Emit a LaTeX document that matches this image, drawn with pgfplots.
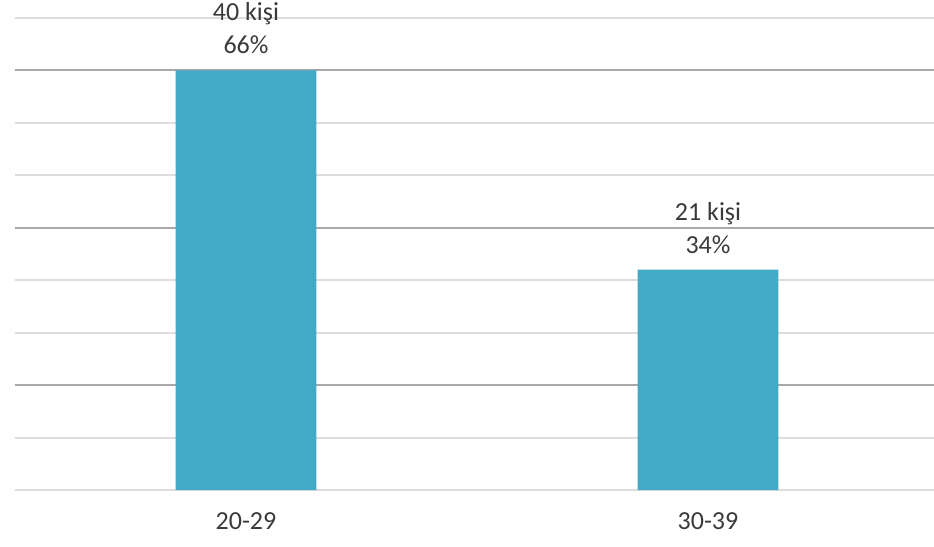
\documentclass[border=0pt]{standalone}
\usepackage{fontspec}
\setmainfont{Carlito}
\usepackage{pgfplots}
\usepackage{pgfplotstable}
\pgfplotsset{compat=1.18}
\definecolor{barblue}{HTML}{42A9C6}
\definecolor{gridlight}{HTML}{DDDDDD}
\definecolor{griddark}{HTML}{A9A9A9}
\definecolor{txt}{HTML}{3A3A3A}
\pgfplotstableread{
x y pct
0 40 66
1 21 34
}\data
\begin{document}
\begin{tikzpicture}
\begin{axis}[
  name=ax,
  scale only axis,
  width=462pt, height=236pt,
  xmin=-0.5, xmax=1.5,
  ymin=0, ymax=45,
  axis lines*=left,
  axis line style={draw=none},
  xtick={0,1},
  xticklabels={20-29,30-39},
  major x tick style={draw=none},
  xticklabel style={font=\fontsize{13}{15}\selectfont, text=txt, yshift=-8pt},
  extra x ticks={-0.5,0.5,1.5},
  extra x tick labels={},
  extra x tick style={grid=none, tick align=outside, major tick length=4pt, tick style={draw=griddark, line width=0.6pt}},
  ytick={0,5,...,45},
  yticklabels={},
  major y tick style={draw=none},
  ymajorgrids,
  grid style={draw=gridlight, line width=1pt},
  extra y ticks={10,25,40},
  extra y tick labels={},
  extra y tick style={grid style={draw=griddark, line width=1pt}, major tick length=0pt},
  clip=false,
]
\addplot[ybar, bar width=0.305, fill=barblue, draw=none,
  visualization depends on={\thisrow{pct}\as\pct},
  nodes near coords={\pgfmathprintnumber[fixed,precision=0,assume math mode=true]{\pgfplotspointmeta}~kişi\\\pgfmathprintnumber[fixed,precision=0,assume math mode=true]{\pct}\%},
  nodes near coords style={anchor=south, align=center, inner sep=0pt, yshift=8pt,
    font=\fontsize{13}{16.5}\selectfont, text=txt}]
  table[x=x, y=y]{\data};
\end{axis}
\pgfresetboundingbox
\useasboundingbox ([xshift=-7.5pt,yshift=-28pt]ax.south west) rectangle ([xshift=-2.5pt,yshift=9pt]ax.north east);
\end{tikzpicture}
\end{document}
